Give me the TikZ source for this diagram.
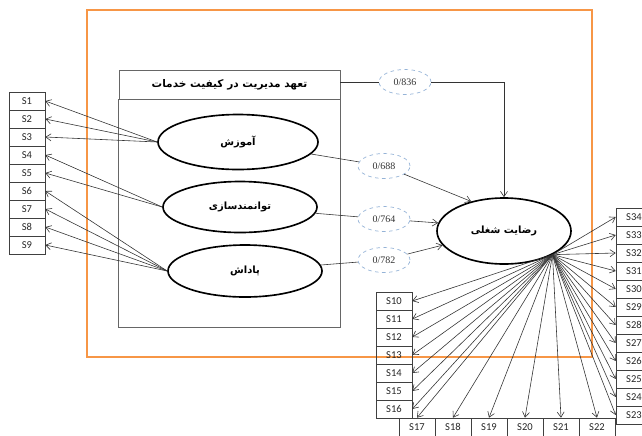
\documentclass[tikz,border=0pt]{standalone}
\usepackage{fontspec}
\setmainfont{Carlito}
\newfontfamily\farsi[Script=Arabic]{DejaVu Sans}
\newfontfamily\numfont{Liberation Serif}
\TeXXeTstate=1
\usetikzlibrary{shapes.geometric,arrows.meta}
\definecolor{frameorange}{HTML}{F79646}
\definecolor{dashblue}{HTML}{95B3D7}

\begin{document}
\begin{tikzpicture}[x=0.03cm,y=-0.03cm,>={Straight Barb[length=4.5pt,width=6pt]},
    sbox/.style={draw=black!75,line width=0.5pt,minimum width=1.08cm,minimum height=0.54cm,inner sep=0pt,text=black!85,font=\fontsize{9}{10}\selectfont},
    latent/.style={ellipse,draw,line width=1.4pt,inner sep=0pt,font=\farsi\bfseries\fontsize{8.5}{10}\selectfont},
    coef/.style={ellipse,draw=dashblue,dashed,line width=0.6pt,minimum width=1.56cm,minimum height=0.75cm,inner sep=0pt,text=black!80,font=\numfont\fontsize{8.5}{10}\selectfont},
    link/.style={->,line width=0.5pt,black!80}]
    \useasboundingbox (0,0) rectangle (642,435);
        \draw[frameorange,line width=2pt] (87,10) rectangle (592,357);
        \node[draw=black!60,line width=0.6pt,minimum width=6.63cm,minimum height=0.87cm,inner sep=0pt,font=\farsi\bfseries\fontsize{9}{10}\selectfont] (header) at (229.5,84.5) {\beginR تعهد مدیریت در کیفیت خدمات\endR};
        \draw[black!60,line width=0.6pt] (header.south west) rectangle (340,327);
        \node[latent,minimum width=4.8cm,minimum height=1.65cm] (amuzesh) at (238,142) {\beginR آموزش\endR};
        \node[latent,minimum width=4.62cm,minimum height=1.53cm] (tavan) at (240,207) {\beginR توانمندسازی\endR};
        \node[latent,minimum width=4.62cm,minimum height=1.56cm] (padash) at (245,271) {\beginR پاداش\endR};
        \node[latent,minimum width=4.02cm,minimum height=1.98cm] (job) at (504,231) {\beginR رضایت شغلی\endR};
        \node[coef] (c836) at (405,82) {0/836};
        \node[coef] (c688) at (384,166) {0/688};
        \node[coef] (c764) at (384,219) {0/764};
        \node[coef] (c782) at (384,260) {0/782};
        \foreach \i in {1,...,9}{
        \node[sbox] (s\i) at (27,{83+18*\i}) {S\i};
        }
        \foreach \i in {10,...,16}{
        \node[sbox] (s\i) at (394,{301+18*(\i-10)}) {S\i};
        }
        \foreach \i in {17,...,22}{
        \node[sbox] (s\i) at ({417+36*(\i-17)},427) {S\i};
        }
        \foreach \i in {23,...,34}{
        \node[sbox] (s\i) at (634,{415-18*(\i-23)}) {S\i};
        }
        \foreach \i in {1,2,3}{
        \draw[link] (amuzesh.west) -- (s\i.east);
        }
        \foreach \i in {4,5}{
        \draw[link] (tavan.west) -- (s\i.east);
        }
        \foreach \i in {6,...,9}{
        \draw[link] (padash.west) -- (s\i.east);
        }
        \draw[line width=0.5pt,black!80] (c836.west) -- (c836.west -| header.east);
        \draw[link] (c836.east) -| (job.north);
        \draw[line width=0.5pt,black!80] (amuzesh) -- (c688);
        \draw[link] (c688) -- (job.138);
        \draw[line width=0.5pt,black!80] (tavan) -- (c764);
        \draw[link] (c764) -- (job.173);
        \draw[line width=0.5pt,black!80] (padash) -- (c782);
        \draw[link] (c782) -- (job.193);
        \coordinate (fan) at (job.-26);
        \foreach \i in {10,...,16}{
        \draw[link] (fan) -- (s\i.east);
        }
        \foreach \i in {17,...,22}{
        \draw[link] (fan) -- (s\i.north);
        }
        \foreach \i in {23,...,34}{
        \draw[link] (fan) -- (s\i.west);
        }
    \end{tikzpicture}
\end{document}
